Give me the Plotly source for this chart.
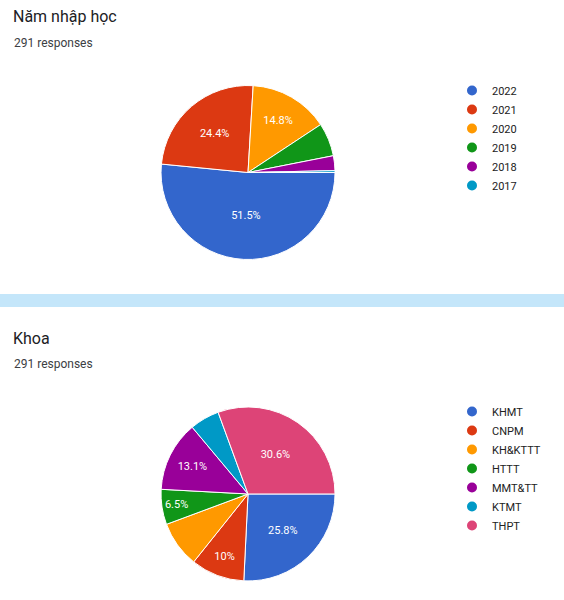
import plotly.graph_objects as go

# --- data ---
nam_labels = ["2022", "2021", "2020", "2019", "2018", "2017"]
nam_values = [150, 71, 43, 18, 8, 1]
nam_show_text = [True, True, True, False, False, False]

khoa_labels = ["KHMT", "CNPM", "KH&KTTT", "HTTT", "MMT&TT", "KTMT", "THPT"]
khoa_values = [75, 29, 25, 19, 38, 16, 89]
khoa_show_text = [True, True, False, True, True, False, True]

n_responses = 291

# google forms palette
colors = ["#3366cc", "#dc3912", "#ff9900", "#109618", "#990099", "#0099c6", "#dd4477"]
FONT = "Roboto"


def pct_text(values, show):
    total = sum(values)
    out = []
    for v, s in zip(values, show):
        p = round(100 * v / total, 1)
        txt = ("%.1f" % p).rstrip("0").rstrip(".") + "%"
        out.append(txt if s else "")
    return out


fig = go.Figure()

pies = [
    (nam_labels, nam_values, nam_show_text, [0.2855, 0.594], [0.5667, 0.8583], "legend"),
    (khoa_labels, khoa_values, khoa_show_text, [0.2855, 0.594], [0.0317, 0.3217], "legend2"),
]

for labels, values, show, dx, dy, leg in pies:
    fig.add_trace(go.Pie(
        labels=labels,
        values=values,
        text=pct_text(values, show),
        textinfo="text",
        textposition="inside",
        insidetextorientation="horizontal",
        textfont=dict(family=FONT, size=11, color="white"),
        marker=dict(colors=colors[:len(labels)], line=dict(color="white", width=1)),
        sort=False,
        direction="clockwise",
        rotation=90,
        domain=dict(x=dx, y=dy),
        showlegend=False,
        hoverinfo="label+percent",
    ))
    # dummy traces so legend shows round markers like google forms
    for lab, col in zip(labels, colors):
        fig.add_trace(go.Scatter(
            x=[None], y=[None], mode="markers", name=lab,
            marker=dict(symbol="circle", size=10, color=col),
            legend=leg, hoverinfo="skip",
        ))

# separator band between the two cards
fig.add_shape(type="rect", xref="paper", yref="paper",
              x0=0, x1=1, y0=1 - 307 / 600, y1=1 - 294 / 600,
              fillcolor="#c4e6fa", line_width=0, layer="below")

titles = [("Năm nhập học", 17, 43), ("Khoa", 338, 364)]
for t, ty, sy in titles:
    fig.add_annotation(text=t, x=11 / 564, y=1 - ty / 600, xref="paper", yref="paper",
                       xanchor="left", yanchor="middle", showarrow=False,
                       font=dict(family=FONT, size=16, color="#202124"))
    fig.add_annotation(text=f"{n_responses} responses", x=12 / 564, y=1 - sy / 600,
                       xref="paper", yref="paper", xanchor="left", yanchor="middle",
                       showarrow=False, font=dict(family=FONT, size=12, color="#3c4043"))

leg_style = dict(font=dict(family=FONT, size=11, color="#222222"),
                 xanchor="left", yanchor="top", bgcolor="rgba(0,0,0,0)",
                 itemclick=False, itemdoubleclick=False)

fig.update_layout(
    width=564, height=600,
    margin=dict(l=0, r=0, t=0, b=0),
    paper_bgcolor="white", plot_bgcolor="white",
    xaxis=dict(visible=False), yaxis=dict(visible=False),
    legend=dict(x=452 / 564, y=1 - 76 / 600, **leg_style),
    legend2=dict(x=452 / 564, y=1 - 397 / 600, **leg_style),
)

# drop the default page margin so the figure sits at the window's corner
fig.write_html("out.html", config={"displayModeBar": False},
               post_script="document.body.style.margin='0';")
